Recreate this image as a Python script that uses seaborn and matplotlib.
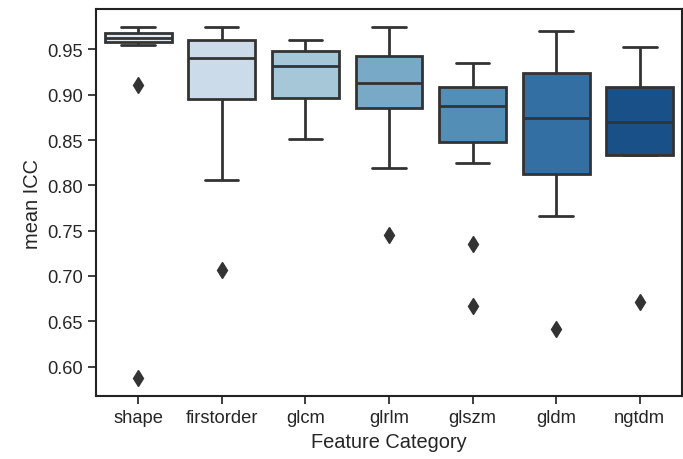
import matplotlib
matplotlib.use("Agg")
import matplotlib.pyplot as plt
import seaborn as sns
import pandas as pd

# mean ICC per feature, grouped by feature category
categories = ["shape", "firstorder", "glcm", "glrlm", "glszm", "gldm", "ngtdm"]

shape_icc = [0.587, 0.911, 0.955, 0.958, 0.959, 0.961, 0.962, 0.963, 0.965,
             0.968, 0.970, 0.972, 0.975]
firstorder_icc = [0.707, 0.806, 0.850, 0.880, 0.895, 0.905, 0.918, 0.930, 0.940,
                  0.945, 0.950, 0.955, 0.960, 0.964, 0.968, 0.972, 0.975]
glcm_icc = [0.851, 0.862, 0.872, 0.880, 0.886, 0.891, 0.896, 0.902, 0.908, 0.914,
            0.920, 0.926, 0.9315, 0.935, 0.938, 0.940, 0.942, 0.945, 0.948, 0.950,
            0.952, 0.954, 0.956, 0.958, 0.960]
glrlm_icc = [0.745, 0.819, 0.850, 0.872, 0.885, 0.893, 0.900, 0.907, 0.913,
             0.920, 0.928, 0.936, 0.943, 0.950, 0.958, 0.966, 0.975]
glszm_icc = [0.667, 0.735, 0.825, 0.838, 0.848, 0.858, 0.868, 0.878, 0.888,
             0.893, 0.898, 0.903, 0.909, 0.915, 0.922, 0.929, 0.935]
gldm_icc = [0.641, 0.766, 0.790, 0.813, 0.835, 0.855, 0.874, 0.890, 0.905,
            0.924, 0.940, 0.955, 0.970]
ngtdm_icc = [0.671, 0.833, 0.870, 0.909, 0.953]

all_icc = [shape_icc, firstorder_icc, glcm_icc, glrlm_icc, glszm_icc, gldm_icc, ngtdm_icc]

rows = []
for cat, vals in zip(categories, all_icc):
    for v in vals:
        rows.append({"Feature Category": cat, "mean ICC": v})
df = pd.DataFrame(rows)

sns.set_theme(style="ticks", context="notebook", font_scale=1.2)
plt.rcParams["font.family"] = ["Liberation Sans", "DejaVu Sans"]

fig, ax = plt.subplots(figsize=(6.83, 4.6), dpi=100)
sns.boxplot(data=df, x="Feature Category", y="mean ICC", order=categories,
            hue="Feature Category", hue_order=categories, palette="Blues",
            legend=False, linewidth=2, linecolor="#333333",
            flierprops=dict(marker="d", markersize=8, markerfacecolor="#333333",
                            markeredgecolor="#333333"),
            ax=ax)

ax.set_yticks([0.60, 0.65, 0.70, 0.75, 0.80, 0.85, 0.90, 0.95])
ax.set_yticklabels([f"{t:.2f}" for t in ax.get_yticks()])
for sp in ax.spines.values():
    sp.set_linewidth(1.5)
    sp.set_color("#222222")

plt.subplots_adjust(left=0.141, right=0.998, top=0.978, bottom=0.137)
plt.savefig("out.png", dpi=100)
